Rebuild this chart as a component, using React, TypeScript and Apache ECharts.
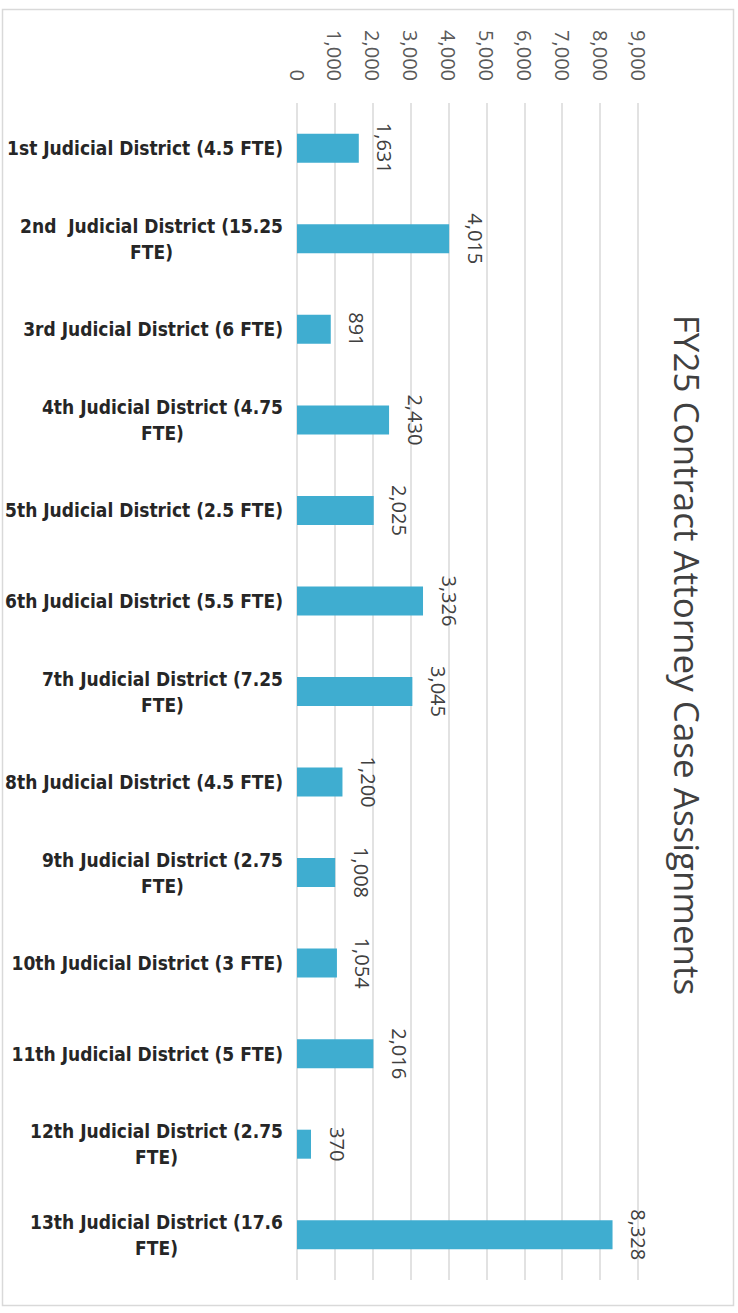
import React, { useEffect, useRef } from "react";
import * as echarts from "echarts";

const categories: string[] = [
  "1st Judicial District (4.5 FTE)",
  "2nd  Judicial District (15.25\nFTE)",
  "3rd Judicial District (6 FTE)",
  "4th Judicial District (4.75\nFTE)",
  "5th Judicial District (2.5 FTE)",
  "6th Judicial District (5.5 FTE)",
  "7th Judicial District (7.25\nFTE)",
  "8th Judicial District (4.5 FTE)",
  "9th Judicial District (2.75\nFTE)",
  "10th Judicial District (3 FTE)",
  "11th Judicial District (5 FTE)",
  "12th Judicial District (2.75\nFTE)",
  "13th Judicial District (17.6\nFTE)",
];

const caseAssignments: number[] = [
  1631, 4015, 891, 2430, 2025, 3326, 3045, 1200, 1008, 1054, 2016, 370, 8328,
];

const valueTicks = { min: 0, max: 9000, interval: 1000 };

const titleText = "FY25 Contract Attorney Case Assignments";

const fmt = (v: number) => v.toLocaleString("en-US");

export default function App() {
  const ref = useRef<HTMLDivElement>(null);
  useEffect(() => {
    if (!ref.current) return;
    const chart = echarts.init(ref.current, undefined, { renderer: "svg" });
    const catFont = "'Liberation Sans Narrow', 'DejaVu Sans Condensed', sans-serif";
    chart.setOption({
      animation: false,
      backgroundColor: "#ffffff",
      graphic: [
        {
          type: "rect",
          shape: { x: 2.5, y: 9.5, width: 731, height: 1296 },
          style: { fill: "none", stroke: "#d9d9d9", lineWidth: 1.5 },
          silent: true,
        },
        {
          type: "text",
          x: 687,
          y: 655,
          rotation: -Math.PI / 2,
          style: {
            text: titleText,
            fill: "#404040",
            font: "35px 'Open Sans', sans-serif",
            textAlign: "center",
            textVerticalAlign: "middle",
          },
        },
      ],
      grid: { left: 297, right: 100, top: 103, bottom: 33, containLabel: false },
      xAxis: {
        type: "value",
        position: "top",
        min: valueTicks.min,
        max: valueTicks.max,
        interval: valueTicks.interval,
        axisLine: { show: false },
        axisTick: { show: false },
        splitLine: { show: true, lineStyle: { color: "#d9d9d9", width: 1.5 } },
        axisLabel: {
          rotate: 90,
          margin: 22,
          color: "#595959",
          fontSize: 20,
          fontFamily: "'Open Sans', sans-serif",
          formatter: (v: number) => fmt(v),
        },
      },
      yAxis: {
        type: "category",
        inverse: true,
        data: categories,
        axisLine: { show: false },
        axisTick: { show: false },
        axisLabel: {
          margin: 14,
          color: "#262626",
          fontSize: 19,
          fontWeight: "bold",
          fontFamily: catFont,
          lineHeight: 26,
          formatter: (v: string) =>
            v
              .split("\n")
              .map((l) => `{c|${l}}`)
              .join("\n"),
          rich: {
            c: {
              align: "center",
              color: "#262626",
              fontSize: 19,
              fontWeight: "bold",
              fontFamily: catFont,
              lineHeight: 26,
            },
          },
        },
      },
      series: [
        {
          type: "bar",
          data: caseAssignments,
          barWidth: 29,
          itemStyle: { color: "#3fadd0" },
          label: {
            show: true,
            position: "right",
            distance: 16,
            rotate: -90,
            align: "center",
            verticalAlign: "bottom",
            color: "#404040",
            fontSize: 20,
            fontFamily: "'Open Sans', sans-serif",
            formatter: (p: any) => fmt(p.value),
          },
        },
      ],
    });
    return () => chart.dispose();
  }, []);
  return (
    <div
      ref={ref}
      style={{ position: "fixed", left: 0, top: 0, width: 738, height: 1313 }}
    />
  );
}
